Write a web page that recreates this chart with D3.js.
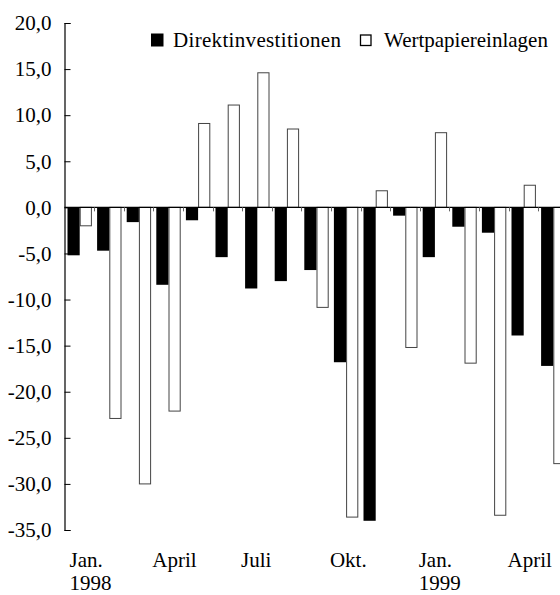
<!DOCTYPE html>
<html><head><meta charset="utf-8">
<script src="https://cdn.jsdelivr.net/npm/d3@7"></script>
<style>body{margin:0;background:#fff}svg{display:block}</style>
</head><body>
<svg id="c" width="560" height="595" font-family="'Liberation Serif', 'Times New Roman', Times, 'DejaVu Serif', serif"></svg>
<script>
const months = ["Jan98","Feb98","Mar98","Apr98","Mai98","Jun98","Jul98","Aug98","Sep98","Okt98","Nov98","Dez98","Jan99","Feb99","Mar99","Apr99","Mai99"];
const direkt = [-5.2,-4.7,-1.6,-8.4,-1.4,-5.4,-8.8,-8.0,-6.8,-16.8,-34.0,-0.9,-5.4,-2.1,-2.75,-13.9,-17.2];
const wertpapier = [-2.0,-22.9,-30.0,-22.1,9.1,11.1,14.6,8.5,-10.85,-33.6,1.8,-15.2,8.1,-16.9,-33.4,2.4,-27.8];
const seriesNames = ["Direktinvestitionen","Wertpapiereinlagen"];
const yTicks = [20,15,10,5,0,-5,-10,-15,-20,-25,-30,-35];
const xLabels = [{m:"Jan98",l1:"Jan.",l2:"1998"},{m:"Apr98",l1:"April",l2:""},{m:"Jul98",l1:"Juli",l2:""},{m:"Okt98",l1:"Okt.",l2:""},{m:"Jan99",l1:"Jan.",l2:"1999"},{m:"Apr99",l1:"April",l2:""}];

const FONT = "'Liberation Serif', 'Times New Roman', Times, 'DejaVu Serif', serif";
const svg = d3.select("#c");
const left = 64.5, bandW = 29.6;
const x = d3.scaleBand().domain(months).range([left, left + bandW*months.length]).padding(0);
const x1 = d3.scaleBand().domain(seriesNames).range([3, 27.4]).padding(0);
const y = d3.scaleLinear().domain([-35,20]).range([530,23]);
const fmt = v => d3.format(".1f")(v).replace(".", ",").replace("−","-");

const data = months.map((m,i)=>({m, vals:[direkt[i], wertpapier[i]]}));

const g = svg.append("g");
data.forEach(d=>{
  d.vals.forEach((v,j)=>{
    const xx = x(d.m) + x1(seriesNames[j]);
    const y0 = y(Math.max(0,v)), y1 = y(Math.min(0,v));
    if (j===0) {
      g.append("rect").attr("x",xx).attr("y",y0).attr("width",x1.bandwidth()).attr("height",y1-y0).attr("fill","#000");
    } else {
      g.append("rect").attr("x",xx+0.5).attr("y",y0).attr("width",x1.bandwidth()-1).attr("height",y1-y0)
       .attr("fill","#fff").attr("stroke","#444").attr("stroke-width",1);
    }
  });
});

svg.append("line").attr("x1",left).attr("x2",560).attr("y1",y(0)).attr("y2",y(0)).attr("stroke","#000").attr("stroke-width",1.2);
months.forEach(m=>{
  const tx = Math.round(x(m)) + 0.5;
  if (x(m) > left+1) svg.append("line").attr("x1",tx).attr("x2",tx).attr("y1",y(0)).attr("y2",y(0)+4).attr("stroke","#666").attr("stroke-width",1);
});

const yAxis = d3.axisLeft(y).tickValues(yTicks).tickSize(-6).tickPadding(13).tickFormat(fmt);
const ya = svg.append("g").attr("transform",`translate(${left},0)`).call(yAxis);
ya.attr("font-family", FONT).attr("font-size", 21);
ya.select(".domain").attr("stroke","#000").attr("stroke-width",1.2);
ya.selectAll(".tick line").attr("stroke","#000");
ya.selectAll("text").attr("fill","#000");

xLabels.forEach(d=>{
  const tx = Math.max(left+5, x(d.m)-1);
  svg.append("text").attr("x",tx).attr("y",567).attr("font-size",21).text(d.l1);
  if (d.l2) svg.append("text").attr("x",tx).attr("y",590).attr("font-size",21).text(d.l2);
});

svg.append("rect").attr("x",151).attr("y",33.5).attr("width",12.5).attr("height",13).attr("fill","#000");
svg.append("text").attr("x",173).attr("y",47).attr("font-size",21).attr("textLength",168).attr("lengthAdjust","spacing").text(seriesNames[0]);
svg.append("rect").attr("x",360.5).attr("y",35).attr("width",10.5).attr("height",10.5).attr("fill","#fff").attr("stroke","#000").attr("stroke-width",1.3);
svg.append("text").attr("x",384).attr("y",47).attr("font-size",21).text(seriesNames[1]);
</script>
</body></html>
